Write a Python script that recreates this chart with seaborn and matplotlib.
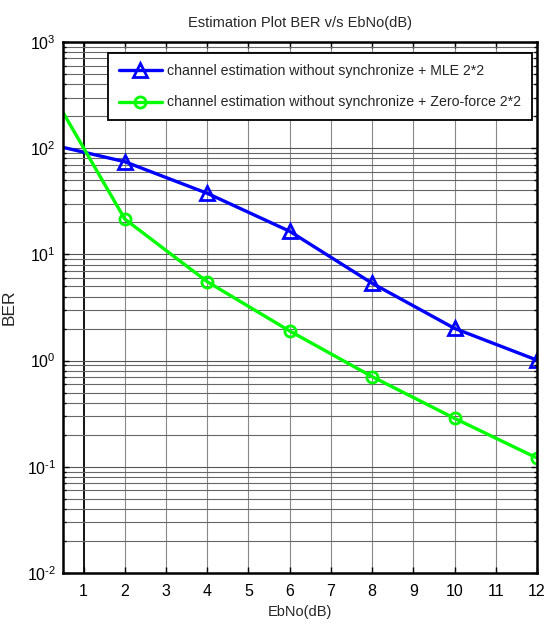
import matplotlib
matplotlib.use("Agg")
import matplotlib.pyplot as plt
import seaborn as sns
import pandas as pd
import numpy as np
from matplotlib.ticker import LogLocator, NullFormatter, FixedLocator, FuncFormatter

# ---- data ----
ebno = [0, 2, 4, 6, 8, 10, 12]
ber_mle = [113, 74.6, 37.6, 16.5, 5.35, 2.01, 1.01]
ber_zf = [470, 21.5, 5.53, 1.90, 0.706, 0.286, 0.121]
label_mle = "channel estimation without synchronize + MLE 2*2"
label_zf = "channel estimation without synchronize + Zero-force 2*2"
x_ticks = [1, 2, 3, 4, 5, 6, 7, 8, 9, 10, 11, 12]
title = "Estimation Plot BER v/s EbNo(dB)"
xlabel = "EbNo(dB)"
ylabel = "BER"

sns.set_style("white")
fam = ["Liberation Sans", "DejaVu Sans"]
plt.rcParams["font.family"] = fam
plt.rcParams["mathtext.default"] = "regular"
plt.rcParams["mathtext.fontset"] = "custom"
plt.rcParams["mathtext.rm"] = "Liberation Sans"
plt.rcParams["mathtext.it"] = "Liberation Sans"

df = pd.DataFrame({
    "EbNo": ebno * 2,
    "BER": ber_mle + ber_zf,
    "series": [label_mle] * len(ebno) + [label_zf] * len(ebno),
})

fig = plt.figure(figsize=(5.44, 6.28), dpi=100)
ax = fig.add_axes([63 / 544, 55 / 628, 474 / 544, 531 / 628])

sns.lineplot(data=df[df.series == label_mle], x="EbNo", y="BER", ax=ax,
             color=(0, 0, 1), lw=2.4, marker="^", markersize=9.5,
             markerfacecolor="none", markeredgecolor=(0, 0, 1),
             markeredgewidth=2, label=label_mle, clip_on=True)
sns.lineplot(data=df[df.series == label_zf], x="EbNo", y="BER", ax=ax,
             color=(0, 1, 0), lw=2.4, marker="o", markersize=8,
             markerfacecolor="none", markeredgecolor=(0, 1, 0),
             markeredgewidth=2, label=label_zf, clip_on=True)

ax.set_yscale("log")
ax.set_xlim(0.5, 12)
ax.set_ylim(1e-2, 1e3)
ax.xaxis.set_major_locator(FixedLocator(x_ticks))
ax.yaxis.set_major_locator(LogLocator(base=10, numticks=10))
ax.yaxis.set_minor_locator(LogLocator(base=10, subs=np.arange(2, 10), numticks=50))
ax.yaxis.set_minor_formatter(NullFormatter())


def pow_fmt(v, pos):
    e = int(round(np.log10(v)))
    return r"$10^{\text{%d}}$" % e


ax.yaxis.set_major_formatter(FuncFormatter(pow_fmt))

ax.grid(True, which="major", color="#555555", lw=0.8)
ax.grid(True, which="minor", axis="y", color="#666666", lw=0.8)
for gl, t in zip(ax.get_xgridlines(), ax.get_xticks()):
    if t == 1:
        gl.set_color("black")
        gl.set_linewidth(1.3)
    else:
        gl.set_color("#888888")

for s in ax.spines.values():
    s.set_visible(True)
    s.set_color("black")
    s.set_linewidth(1.8)

ax.tick_params(which="both", direction="in", top=True, right=True,
               bottom=True, left=True, colors="black", labelsize=11.5)
ax.tick_params(which="major", length=4, width=1)
ax.tick_params(which="minor", length=2.5, width=1)
ax.tick_params(axis="x", pad=8)
ax.tick_params(axis="y", pad=5)

ax.set_title(title, fontsize=10.5, pad=11)
ax.set_xlabel(xlabel, fontsize=10.5, labelpad=4)
ax.set_ylabel(ylabel, fontsize=12.5)
ax.yaxis.set_label_coords(-0.097, 0.5)

leg = ax.legend(loc="upper right", bbox_to_anchor=(0.9895, 0.979),
                fontsize=10.2, frameon=True, fancybox=False, framealpha=1,
                edgecolor="black", handlelength=3.1, handletextpad=0.35,
                labelspacing=1.25, borderpad=0.75, borderaxespad=0)
leg.get_frame().set_linewidth(1.3)

fig.savefig("out.png", dpi=100)
